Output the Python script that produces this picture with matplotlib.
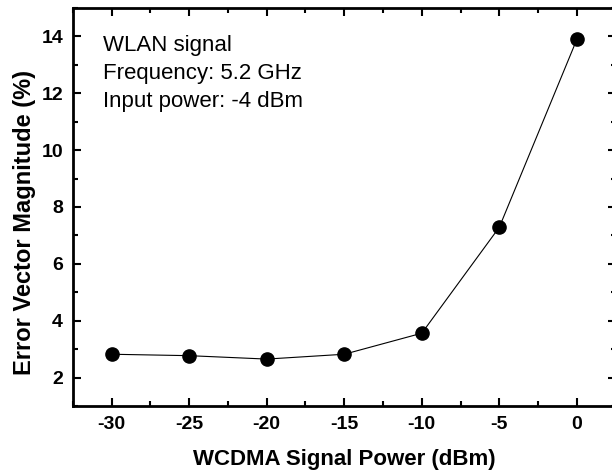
import numpy as np
import matplotlib.pyplot as plt
from matplotlib.ticker import MultipleLocator

plt.rcParams['font.family'] = ['Liberation Sans', 'DejaVu Sans']
plt.rcParams['axes.unicode_minus'] = False

# Datos
potencia_wcdma = [-30, -25, -20, -15, -10, -5, 0]
evm = [2.82, 2.77, 2.65, 2.82, 3.56, 7.29, 13.9]

fig = plt.figure(figsize=(6.12, 4.74), dpi=100)
ax = fig.add_axes([0.119, 0.1435, 0.887, 0.8396])

ax.plot(potencia_wcdma, evm, color='black', linewidth=0.8,
        marker='o', markersize=9.5, markerfacecolor='black',
        markeredgecolor='black')

ax.set_xlim(-32.5, 2.5)
ax.set_ylim(1, 15)
ax.xaxis.set_major_locator(MultipleLocator(5))
ax.xaxis.set_minor_locator(MultipleLocator(2.5))
ax.yaxis.set_major_locator(MultipleLocator(2))
ax.yaxis.set_minor_locator(MultipleLocator(1))

ax.tick_params(which='both', direction='in', top=True, right=True, width=1.5)
ax.tick_params(which='major', length=6, labelsize=14, pad=7)
ax.tick_params(which='minor', length=3.5)
for lbl in ax.get_xticklabels() + ax.get_yticklabels():
    lbl.set_fontweight('bold')
for s in ax.spines.values():
    s.set_linewidth(2)

ax.set_xlabel('WCDMA Signal Power (dBm)', fontsize=16, fontweight='bold', labelpad=12)
ax.set_ylabel('Error Vector Magnitude (%)', fontsize=17, fontweight='bold')
ax.yaxis.set_label_coords(-0.067, 0.462)

ax.text(0.056, 0.932, 'WLAN signal\nFrequency: 5.2 GHz\nInput power: -4 dBm',
        transform=ax.transAxes, fontsize=16, va='top', ha='left', linespacing=1.45)

fig.savefig('out.png', dpi=100)
